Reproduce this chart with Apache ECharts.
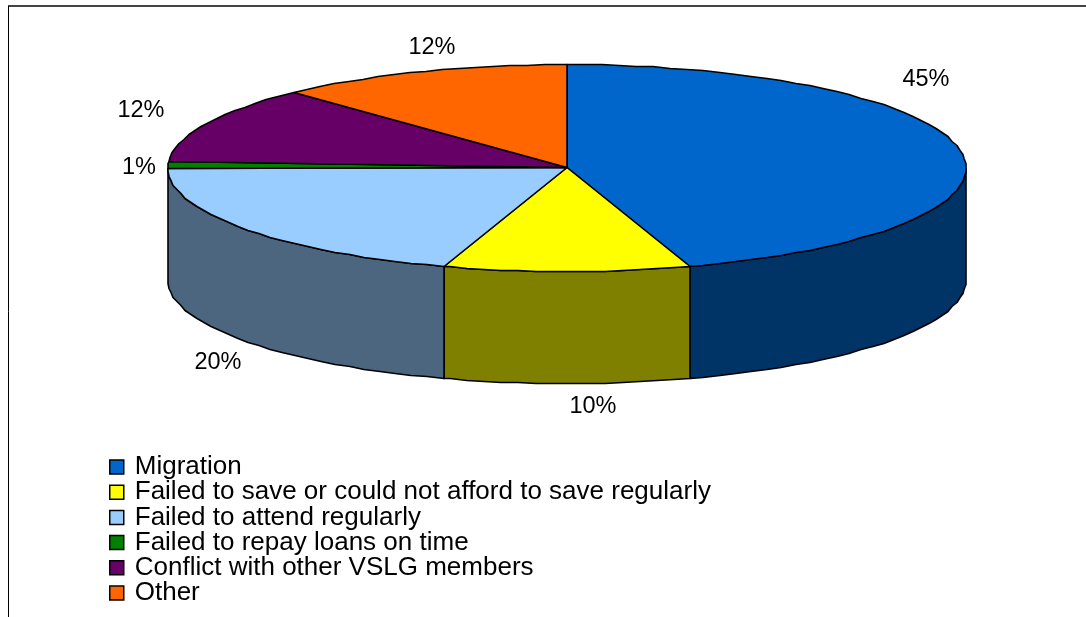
<!DOCTYPE html>
<html>
<head>
<meta charset="utf-8">
<style>html,body{margin:0;padding:0;background:#fff}#chart{width:1086px;height:617px}</style>
<script src="https://cdn.jsdelivr.net/npm/echarts@6/dist/echarts.min.js"></script>
</head>
<body>
<div id="chart"></div>
<script>
// Reasons for leaving the VSLG, share of respondents in percent
const categories = [
  'Migration',
  'Failed to save or could not afford to save regularly',
  'Failed to attend regularly',
  'Failed to repay loans on time',
  'Conflict with other VSLG members',
  'Other'
];
const shares = [45, 10, 20, 1, 12, 12];
const topColors = ['#0066CC', '#FFFF00', '#99CCFF', '#008000', '#660066', '#FF6600'];
const sideColors = ['#003366', '#808000', '#4D6680', '#004000', '#330033', '#803300'];
// Centre of each percentage label
const labelCentres = [[926, 80], [593, 407], [218, 363], [139, 168], [141, 111], [432, 48]];

// Disc geometry: tilted ellipse plus the height of the wall below it
const disc = { cx: 567, cy: 167.5, rx: 399, ry: 103.5, depth: 112 };
const total = shares.reduce((a, b) => a + b, 0);
const STEP = 2.5;

// Rim vertices are snapped to whole pixels, which leaves a faintly stepped outline
function rimPoint(deg, dy) {
  const r = deg * Math.PI / 180;
  const x = disc.cx + disc.rx * Math.sin(r);
  const y = disc.cy - disc.ry * Math.cos(r);
  return [Math.round(x), Math.round(y) + 0.5 + (dy || 0)];
}
function arc(from, to, dy) {
  const pts = [];
  for (let d = from; d < to - 1e-6; d += STEP) pts.push(rimPoint(d, dy));
  pts.push(rimPoint(to, dy));
  return pts;
}

function sliceRenderer(index) {
  const before = shares.slice(0, index).reduce((a, b) => a + b, 0);
  return function (params, api) {
    const start = before / total * 360;
    const end = start + api.value(0) / total * 360;
    const stroke = { stroke: '#000', lineWidth: 1.6, lineJoin: 'round' };
    const children = [];
    // The wall is only visible on the front half of the disc
    const wallFrom = Math.max(start, 90);
    const wallTo = Math.min(end, 270);
    if (wallFrom < wallTo) {
      const upper = arc(wallFrom, wallTo, 0);
      const lower = arc(wallFrom, wallTo, disc.depth).reverse();
      children.push({
        type: 'polygon',
        shape: { points: upper.concat(lower) },
        style: Object.assign({ fill: sideColors[index] }, stroke)
      });
    }
    children.push({
      type: 'polygon',
      shape: { points: [[disc.cx, disc.cy]].concat(arc(start, end, 0)) },
      style: Object.assign({ fill: topColors[index] }, stroke)
    });
    children.push({
      type: 'text',
      x: labelCentres[index][0],
      y: labelCentres[index][1],
      style: {
        text: api.value(0) + '%',
        fill: '#000',
        font: '23.5px "Liberation Sans", Arial, sans-serif',
        align: 'center',
        verticalAlign: 'middle'
      }
    });
    return { type: 'group', children };
  };
}

const chart = echarts.init(document.getElementById('chart'), null, { renderer: 'canvas' });
chart.setOption({
  animation: false,
  backgroundColor: '#fff',
  graphic: [
    { type: 'line', shape: { x1: 8, y1: 6, x2: 1086, y2: 6 }, style: { stroke: '#444', lineWidth: 2 } },
    { type: 'line', shape: { x1: 8.5, y1: 6, x2: 8.5, y2: 617 }, style: { stroke: '#000', lineWidth: 1 } }
  ],
  legend: {
    orient: 'vertical',
    left: 104,
    top: 449,
    padding: 5,
    itemGap: -0.8,
    itemWidth: 14,
    itemHeight: 14,
    icon: 'rect',
    selectedMode: false,
    itemStyle: { borderColor: '#000', borderWidth: 1.5 },
    textStyle: {
      color: '#000',
      fontFamily: '"Liberation Sans", Arial, sans-serif',
      fontSize: 26,
      lineHeight: 25.2,
      padding: [0, 0, 0, 6]
    },
    data: categories
  },
  series: categories.map((name, i) => ({
    type: 'custom',
    name,
    coordinateSystem: 'none',
    silent: true,
    itemStyle: { color: topColors[i] },
    renderItem: sliceRenderer(i),
    encode: { value: 0 },
    data: [[shares[i]]]
  }))
});
</script>
</body>
</html>
